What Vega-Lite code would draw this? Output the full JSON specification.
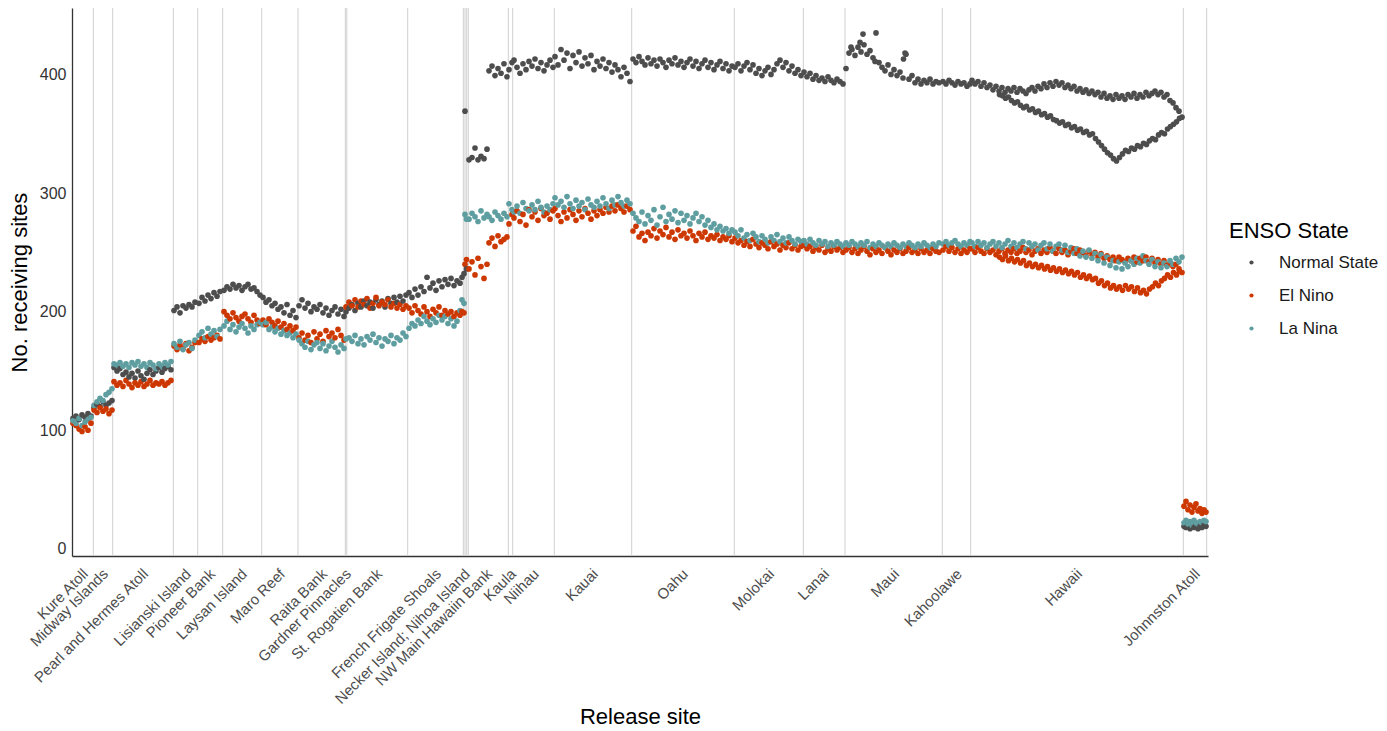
{
  "$schema": "https://vega.github.io/schema/vega-lite/v6.json",
  "width": 1136,
  "height": 548,
  "autosize": "none",
  "padding": {"left": 72, "top": 8, "right": 179, "bottom": 175},
  "background": "white",
  "config": {"view": {"stroke": null}, "font": "Liberation Sans"},
  "datasets": {
    "sites": [
      {"b": 21.3}, {"b": 40.7}, {"b": 101.3}, {"b": 125.7}, {"b": 150.7}, {"b": 189.7}, {"b": 226}, {"b": 273.3}, {"b": 274.8},
      {"b": 335.7}, {"b": 391.3}, {"b": 393}, {"b": 394.7}, {"b": 396.3}, {"b": 436.3}, {"b": 440.7}, {"b": 482.3}, {"b": 559.7},
      {"b": 662.3}, {"b": 731.3}, {"b": 773}, {"b": 870.3}, {"b": 898.7}, {"b": 1111.3}, {"b": 1134.7}
    ],
    "pts": [
      {"x":1,"n":110,"e":106,"l":108},{"x":4,"n":112,"e":104,"l":106},{"x":7,"n":109,"e":101,"l":110},{"x":10,"n":113,"e":99,"l":104},
      {"x":13,"n":111,"e":103,"l":107},{"x":16,"n":114,"e":100,"l":109},{"x":19,"n":112,"e":106,"l":111},
      {"x":22,"n":119,"e":117,"l":121},{"x":25,"n":122,"e":115,"l":124},{"x":28,"n":120,"e":119,"l":127},{"x":31,"n":124,"e":116,"l":125},
      {"x":34,"n":121,"e":118,"l":130},{"x":37,"n":123,"e":114,"l":132},{"x":40,"n":125,"e":117,"l":135},
      {"x":42,"n":153,"e":141,"l":156},{"x":45,"n":150,"e":138,"l":155},{"x":48,"n":152,"e":140,"l":157},{"x":51,"n":147,"e":137,"l":154},
      {"x":54,"n":149,"e":142,"l":156},{"x":57,"n":145,"e":139,"l":153},{"x":60,"n":148,"e":136,"l":157},{"x":63,"n":144,"e":140,"l":155},
      {"x":66,"n":150,"e":138,"l":158},{"x":69,"n":146,"e":141,"l":154},{"x":72,"n":143,"e":137,"l":156},{"x":75,"n":148,"e":139,"l":153},
      {"x":78,"n":151,"e":142,"l":157},{"x":81,"n":147,"e":138,"l":155},{"x":84,"n":150,"e":140,"l":152},{"x":87,"n":153,"e":139,"l":156},
      {"x":90,"n":149,"e":141,"l":154},{"x":93,"n":152,"e":138,"l":157},{"x":96,"n":154,"e":140,"l":155},{"x":99,"n":151,"e":142,"l":158},
      {"x":102,"n":201,"e":171,"l":173},{"x":105,"n":204,"e":168,"l":170},{"x":108,"n":199,"e":172,"l":175},{"x":111,"n":205,"e":169,"l":168},
      {"x":114,"n":203,"e":173,"l":172},{"x":117,"n":206,"e":167,"l":174},{"x":120,"n":204,"e":170,"l":169},{"x":123,"n":208,"e":174,"l":176},
      {"x":127,"n":207,"e":174,"l":180},{"x":130,"n":212,"e":177,"l":183},{"x":133,"n":209,"e":175,"l":178},{"x":136,"n":214,"e":179,"l":186},
      {"x":139,"n":211,"e":176,"l":181},{"x":142,"n":216,"e":178,"l":184},{"x":145,"n":213,"e":180,"l":179},{"x":148,"n":217,"e":177,"l":185},
      {"x":152,"n":218,"e":200,"l":188},{"x":155,"n":221,"e":197,"l":192},{"x":158,"n":219,"e":194,"l":185},{"x":161,"n":223,"e":199,"l":189},
      {"x":164,"n":220,"e":195,"l":183},{"x":167,"n":222,"e":192,"l":187},{"x":170,"n":218,"e":196,"l":190},{"x":173,"n":221,"e":198,"l":186},
      {"x":176,"n":223,"e":194,"l":182},{"x":179,"n":219,"e":191,"l":188},{"x":182,"n":220,"e":197,"l":185},{"x":185,"n":217,"e":193,"l":189},
      {"x":188,"n":214,"e":190,"l":191},
      {"x":191,"n":212,"e":193,"l":189},{"x":194,"n":208,"e":189,"l":191},{"x":197,"n":210,"e":194,"l":185},{"x":200,"n":205,"e":191,"l":187},
      {"x":203,"n":207,"e":188,"l":183},{"x":206,"n":202,"e":192,"l":186},{"x":209,"n":204,"e":187,"l":181},{"x":212,"n":199,"e":190,"l":184},
      {"x":215,"n":206,"e":185,"l":180},{"x":218,"n":197,"e":188,"l":182},{"x":221,"n":201,"e":184,"l":178},{"x":224,"n":195,"e":187,"l":181},
      {"x":227,"n":205,"e":178,"l":176},{"x":230,"n":210,"e":182,"l":173},{"x":233,"n":203,"e":176,"l":170},{"x":236,"n":207,"e":180,"l":175},
      {"x":239,"n":200,"e":174,"l":168},{"x":242,"n":204,"e":183,"l":172},{"x":245,"n":202,"e":177,"l":174},{"x":248,"n":206,"e":181,"l":169},
      {"x":251,"n":199,"e":175,"l":173},{"x":254,"n":203,"e":184,"l":167},{"x":257,"n":197,"e":179,"l":171},{"x":260,"n":201,"e":182,"l":175},
      {"x":263,"n":204,"e":178,"l":170},{"x":266,"n":198,"e":185,"l":166},{"x":269,"n":202,"e":180,"l":172},{"x":272,"n":196,"e":176,"l":169},
      {"x":274,"n":200,"e":204,"l":177},
      {"x":277,"n":203,"e":208,"l":178},{"x":280,"n":206,"e":205,"l":175},{"x":283,"n":201,"e":210,"l":180},{"x":286,"n":207,"e":204,"l":173},
      {"x":289,"n":204,"e":209,"l":177},{"x":292,"n":209,"e":206,"l":172},{"x":295,"n":205,"e":211,"l":179},{"x":298,"n":208,"e":203,"l":176},
      {"x":301,"n":203,"e":207,"l":181},{"x":304,"n":210,"e":212,"l":174},{"x":307,"n":206,"e":205,"l":178},{"x":310,"n":209,"e":208,"l":171},
      {"x":313,"n":204,"e":206,"l":177},{"x":316,"n":211,"e":210,"l":175},{"x":319,"n":207,"e":204,"l":180},{"x":322,"n":212,"e":207,"l":173},
      {"x":325,"n":208,"e":203,"l":178},{"x":328,"n":213,"e":206,"l":176},{"x":331,"n":209,"e":202,"l":182},{"x":334,"n":214,"e":205,"l":179},
      {"x":337,"n":216,"e":203,"l":186},{"x":340,"n":212,"e":199,"l":190},{"x":343,"n":219,"e":205,"l":188},{"x":346,"n":214,"e":201,"l":193},
      {"x":349,"n":221,"e":198,"l":190},{"x":352,"n":217,"e":204,"l":196},{"x":355,"n":229,"e":200,"l":192},{"x":358,"n":220,"e":196,"l":189},
      {"x":361,"n":224,"e":202,"l":194},{"x":364,"n":218,"e":199,"l":191},{"x":367,"n":226,"e":204,"l":197},{"x":370,"n":221,"e":197,"l":193},
      {"x":373,"n":227,"e":201,"l":196},{"x":376,"n":223,"e":198,"l":190},{"x":379,"n":228,"e":200,"l":194},{"x":382,"n":222,"e":196,"l":188},
      {"x":385,"n":226,"e":199,"l":192},{"x":388,"n":224,"e":197,"l":201},{"x":390,"n":229,"e":200,"l":210},
      {"x":392,"n":232,"e":199,"l":207},{"x":393,"n":369,"e":240,"l":282},{"x":394.5,"n":236,"e":244,"l":278},
      {"x":397,"n":328,"e":236,"l":278},{"x":400,"n":330,"e":242,"l":283},{"x":403,"n":338,"e":231,"l":280},{"x":406,"n":328,"e":245,"l":276},
      {"x":409,"n":331,"e":238,"l":285},{"x":412,"n":329,"e":228,"l":279},{"x":415,"n":337,"e":240,"l":282},
      {"x":417,"n":403,"e":258,"l":280},{"x":420,"n":407,"e":262,"l":277},{"x":423,"n":399,"e":255,"l":284},{"x":426,"n":405,"e":264,"l":281},
      {"x":429,"n":401,"e":259,"l":278},{"x":432,"n":409,"e":261,"l":283},{"x":435,"n":398,"e":263,"l":280},
      {"x":437,"n":404,"e":274,"l":291},{"x":440,"n":410,"e":282,"l":286},
      {"x":442,"n":412,"e":279,"l":284},{"x":445,"n":406,"e":285,"l":289},{"x":448,"n":401,"e":276,"l":283},{"x":451,"n":409,"e":282,"l":292},
      {"x":454,"n":404,"e":273,"l":287},{"x":457,"n":411,"e":286,"l":285},{"x":460,"n":407,"e":280,"l":290},{"x":463,"n":413,"e":284,"l":286},
      {"x":466,"n":405,"e":277,"l":293},{"x":469,"n":410,"e":287,"l":288},{"x":472,"n":403,"e":281,"l":284},{"x":475,"n":408,"e":283,"l":289},
      {"x":478,"n":412,"e":278,"l":286},{"x":481,"n":406,"e":285,"l":291},
      {"x":483,"n":415,"e":287,"l":296},{"x":486,"n":408,"e":281,"l":290},{"x":489,"n":421,"e":276,"l":293},{"x":492,"n":412,"e":284,"l":288},
      {"x":495,"n":418,"e":279,"l":297},{"x":498,"n":405,"e":286,"l":291},{"x":501,"n":416,"e":282,"l":287},{"x":504,"n":410,"e":277,"l":294},
      {"x":507,"n":419,"e":285,"l":289},{"x":510,"n":407,"e":280,"l":292},{"x":513,"n":414,"e":287,"l":286},{"x":516,"n":409,"e":283,"l":295},
      {"x":519,"n":416,"e":278,"l":290},{"x":522,"n":404,"e":285,"l":288},{"x":525,"n":411,"e":281,"l":293},{"x":528,"n":407,"e":286,"l":289},
      {"x":531,"n":413,"e":283,"l":296},{"x":534,"n":405,"e":288,"l":291},{"x":537,"n":410,"e":284,"l":287},{"x":540,"n":402,"e":289,"l":294},
      {"x":543,"n":408,"e":285,"l":290},{"x":546,"n":404,"e":290,"l":297},{"x":549,"n":398,"e":287,"l":292},{"x":552,"n":406,"e":284,"l":289},
      {"x":555,"n":401,"e":289,"l":294},{"x":558,"n":394,"e":286,"l":291},
      {"x":561,"n":413,"e":268,"l":283},{"x":564,"n":410,"e":272,"l":279},{"x":567,"n":415,"e":263,"l":276},{"x":570,"n":411,"e":266,"l":284},
      {"x":573,"n":408,"e":260,"l":274},{"x":576,"n":414,"e":267,"l":281},{"x":579,"n":409,"e":264,"l":277},{"x":582,"n":412,"e":270,"l":286},
      {"x":585,"n":407,"e":262,"l":273},{"x":588,"n":413,"e":268,"l":280},{"x":591,"n":410,"e":265,"l":288},{"x":594,"n":406,"e":271,"l":276},
      {"x":597,"n":412,"e":263,"l":282},{"x":600,"n":409,"e":267,"l":278},{"x":603,"n":414,"e":261,"l":285},{"x":606,"n":408,"e":269,"l":275},
      {"x":609,"n":411,"e":264,"l":283},{"x":612,"n":406,"e":266,"l":277},{"x":615,"n":410,"e":262,"l":281},{"x":618,"n":413,"e":268,"l":274},
      {"x":621,"n":407,"e":264,"l":279},{"x":624,"n":411,"e":260,"l":283},{"x":627,"n":405,"e":266,"l":276},{"x":630,"n":409,"e":263,"l":280},
      {"x":633,"n":412,"e":267,"l":273},{"x":636,"n":406,"e":261,"l":277},{"x":639,"n":410,"e":264,"l":271},{"x":642,"n":404,"e":262,"l":274},
      {"x":645,"n":408,"e":265,"l":269},{"x":648,"n":411,"e":260,"l":272},{"x":651,"n":405,"e":263,"l":268},{"x":654,"n":409,"e":261,"l":270},
      {"x":657,"n":403,"e":264,"l":266},{"x":660,"n":407,"e":259,"l":269},
      {"x":663,"n":406,"e":262,"l":267},{"x":666,"n":409,"e":258,"l":264},{"x":669,"n":403,"e":260,"l":269},{"x":672,"n":407,"e":256,"l":262},
      {"x":675,"n":410,"e":259,"l":265},{"x":678,"n":404,"e":255,"l":260},{"x":681,"n":408,"e":261,"l":266},{"x":684,"n":401,"e":257,"l":263},
      {"x":687,"n":405,"e":254,"l":259},{"x":690,"n":399,"e":258,"l":264},{"x":693,"n":403,"e":256,"l":261},{"x":696,"n":406,"e":253,"l":258},
      {"x":699,"n":400,"e":259,"l":263},{"x":702,"n":404,"e":255,"l":260},{"x":705,"n":409,"e":257,"l":265},{"x":708,"n":412,"e":252,"l":259},
      {"x":711,"n":406,"e":256,"l":262},{"x":714,"n":410,"e":254,"l":258},{"x":717,"n":403,"e":258,"l":263},{"x":720,"n":407,"e":253,"l":260},
      {"x":723,"n":401,"e":256,"l":257},{"x":726,"n":404,"e":252,"l":261},{"x":729,"n":399,"e":255,"l":259},
      {"x":732,"n":402,"e":256,"l":260},{"x":735,"n":398,"e":253,"l":257},{"x":738,"n":401,"e":255,"l":261},{"x":741,"n":396,"e":251,"l":258},
      {"x":744,"n":399,"e":254,"l":256},{"x":747,"n":395,"e":252,"l":260},{"x":750,"n":397,"e":256,"l":257},{"x":753,"n":394,"e":250,"l":259},
      {"x":756,"n":398,"e":253,"l":255},{"x":759,"n":395,"e":251,"l":258},{"x":762,"n":393,"e":255,"l":256},{"x":765,"n":396,"e":252,"l":259},
      {"x":768,"n":394,"e":254,"l":257},{"x":771,"n":392,"e":250,"l":255},
      {"x":774,"n":405,"e":252,"l":258},{"x":777,"n":418,"e":254,"l":256},{"x":780,"n":421,"e":250,"l":259},{"x":783,"n":416,"e":253,"l":257},
      {"x":786,"n":423,"e":249,"l":255},{"x":789,"n":419,"e":252,"l":258},{"x":792,"n":425,"e":255,"l":256},{"x":795,"n":417,"e":251,"l":259},
      {"x":798,"n":420,"e":248,"l":254},{"x":801,"n":414,"e":253,"l":257},{"x":804,"n":435,"e":250,"l":255},{"x":807,"n":410,"e":252,"l":258},
      {"x":810,"n":406,"e":249,"l":256},{"x":813,"n":403,"e":254,"l":254},{"x":816,"n":408,"e":251,"l":257},{"x":819,"n":400,"e":248,"l":255},
      {"x":822,"n":404,"e":252,"l":258},{"x":825,"n":399,"e":250,"l":256},{"x":828,"n":402,"e":253,"l":254},{"x":831,"n":397,"e":249,"l":257},
      {"x":834,"n":417,"e":251,"l":255},{"x":837,"n":396,"e":254,"l":258},{"x":840,"n":399,"e":250,"l":256},{"x":843,"n":393,"e":252,"l":254},
      {"x":846,"n":396,"e":249,"l":257},{"x":849,"n":392,"e":253,"l":255},{"x":852,"n":395,"e":250,"l":258},{"x":855,"n":393,"e":252,"l":256},
      {"x":858,"n":396,"e":249,"l":254},{"x":861,"n":392,"e":253,"l":257},{"x":864,"n":394,"e":251,"l":255},{"x":867,"n":393,"e":250,"l":258},
      {"x":779,"n":423},{"x":788,"n":427},{"x":791,"n":434},{"x":803,"n":411},{"x":831.5,"n":413},{"x":833,"n":418},
      {"x":871,"n":394,"e":252,"l":257},{"x":874,"n":392,"e":255,"l":259},{"x":877,"n":395,"e":251,"l":256},{"x":880,"n":393,"e":254,"l":258},
      {"x":883,"n":391,"e":250,"l":260},{"x":886,"n":394,"e":253,"l":257},{"x":889,"n":392,"e":249,"l":255},{"x":892,"n":393,"e":252,"l":258},
      {"x":895,"n":390,"e":250,"l":256},{"x":898,"n":392,"e":253,"l":259},
      {"x":900,"n":395,"e":253,"l":258},{"x":903,"n":392,"e":250,"l":255},{"x":906,"n":394,"e":254,"l":259},{"x":909,"n":390,"e":251,"l":256},
      {"x":912,"n":393,"e":249,"l":258},{"x":915,"n":389,"e":253,"l":254},{"x":918,"n":391,"e":250,"l":257},{"x":921,"n":387,"e":252,"l":259},
      {"x":924,"n":390,"e":248,"l":255},{"x":927,"n":386,"e":251,"l":258},{"x":930,"n":389,"e":253,"l":254},{"x":933,"n":385,"e":249,"l":257},
      {"x":936,"n":388,"e":252,"l":260},{"x":939,"n":386,"e":250,"l":255},{"x":942,"n":389,"e":253,"l":258},{"x":945,"n":385,"e":249,"l":254},
      {"x":948,"n":388,"e":251,"l":257},{"x":951,"n":386,"e":254,"l":259},{"x":954,"n":384,"e":250,"l":253},{"x":957,"n":387,"e":252,"l":258},
      {"x":960,"n":389,"e":248,"l":255},{"x":963,"n":386,"e":251,"l":257},{"x":966,"n":390,"e":253,"l":252},{"x":969,"n":388,"e":249,"l":256},
      {"x":972,"n":392,"e":252,"l":258},{"x":975,"n":389,"e":250,"l":253},{"x":978,"n":393,"e":254,"l":257},{"x":981,"n":390,"e":251,"l":251},
      {"x":984,"n":394,"e":249,"l":255},{"x":987,"n":391,"e":253,"l":257},{"x":990,"n":393,"e":250,"l":252},{"x":993,"n":389,"e":252,"l":256},
      {"x":996,"n":391,"e":248,"l":250},{"x":999,"n":388,"e":251,"l":254},{"x":1002,"n":390,"e":253,"l":249},{"x":1005,"n":386,"e":249,"l":253},
      {"x":1008,"n":388,"e":252,"l":247},{"x":1011,"n":385,"e":250,"l":251},{"x":1014,"n":387,"e":247,"l":246},{"x":1017,"n":384,"e":251,"l":252},
      {"x":1020,"n":386,"e":248,"l":245},{"x":1023,"n":383,"e":250,"l":249},{"x":1026,"n":385,"e":246,"l":243},{"x":1029,"n":381,"e":249,"l":248},
      {"x":1032,"n":384,"e":245,"l":241},{"x":1035,"n":380,"e":247,"l":246},{"x":1038,"n":382,"e":244,"l":239},{"x":1041,"n":379,"e":246,"l":243},
      {"x":1044,"n":383,"e":243,"l":237},{"x":1047,"n":380,"e":246,"l":242},{"x":1050,"n":382,"e":244,"l":236},{"x":1053,"n":379,"e":242,"l":241},
      {"x":1056,"n":383,"e":245,"l":238},{"x":1059,"n":381,"e":243,"l":243},{"x":1062,"n":384,"e":246,"l":240},{"x":1065,"n":380,"e":242,"l":245},
      {"x":1068,"n":383,"e":245,"l":241},{"x":1071,"n":381,"e":243,"l":247},{"x":1074,"n":385,"e":246,"l":243},{"x":1077,"n":382,"e":242,"l":240},
      {"x":1080,"n":384,"e":245,"l":244},{"x":1083,"n":386,"e":241,"l":238},{"x":1086,"n":383,"e":244,"l":242},{"x":1089,"n":385,"e":240,"l":237},
      {"x":1092,"n":381,"e":243,"l":241},{"x":1095,"n":383,"e":239,"l":238},{"x":1098,"n":378,"e":241,"l":243},{"x":1101,"n":376,"e":238,"l":240},
      {"x":1104,"n":372,"e":240,"l":245},{"x":1107,"n":369,"e":236,"l":242},{"x":1110,"n":364,"e":233,"l":246},
      {"x":927.5,"n":383,"e":246},{"x":930.5,"n":382,"e":244},{"x":933.5,"n":380,"e":247},{"x":936.5,"n":381,"e":243},{"x":939.5,"n":378,"e":245},
      {"x":942.5,"n":376,"e":242},{"x":945.5,"n":377,"e":244},{"x":948.5,"n":374,"e":241},{"x":951.5,"n":372,"e":243},{"x":954.5,"n":373,"e":239},
      {"x":957.5,"n":370,"e":241},{"x":960.5,"n":371,"e":238},{"x":963.5,"n":368,"e":240},{"x":966.5,"n":369,"e":237},{"x":969.5,"n":366,"e":239},
      {"x":972.5,"n":367,"e":236},{"x":975.5,"n":364,"e":238},{"x":978.5,"n":365,"e":235},{"x":981.5,"n":362,"e":237},{"x":984.5,"n":361,"e":234},
      {"x":987.5,"n":359,"e":236},{"x":990.5,"n":360,"e":233},{"x":993.5,"n":357,"e":235},{"x":996.5,"n":358,"e":232},{"x":999.5,"n":355,"e":234},
      {"x":1002.5,"n":356,"e":231},{"x":1005.5,"n":353,"e":233},{"x":1008.5,"n":354,"e":229},{"x":1011.5,"n":351,"e":231},{"x":1014.5,"n":352,"e":228},
      {"x":1017.5,"n":349,"e":230},{"x":1020.5,"n":350,"e":227},{"x":1023.5,"n":346,"e":228},{"x":1026.5,"n":343,"e":224},{"x":1029.5,"n":340,"e":226},
      {"x":1032.5,"n":337,"e":222},{"x":1035.5,"n":334,"e":224},{"x":1038.5,"n":332,"e":220},{"x":1041.5,"n":329,"e":222},{"x":1044.5,"n":327,"e":219},
      {"x":1047.5,"n":330,"e":221},{"x":1050.5,"n":333,"e":218},{"x":1053.5,"n":336,"e":222},{"x":1056.5,"n":335,"e":219},{"x":1059.5,"n":338,"e":221},
      {"x":1062.5,"n":337,"e":217},{"x":1065.5,"n":340,"e":220},{"x":1068.5,"n":339,"e":216},{"x":1071.5,"n":342,"e":218},{"x":1074.5,"n":341,"e":215},
      {"x":1077.5,"n":344,"e":219},{"x":1080.5,"n":346,"e":221},{"x":1083.5,"n":345,"e":224},{"x":1086.5,"n":349,"e":222},{"x":1089.5,"n":351,"e":226},
      {"x":1092.5,"n":350,"e":228},{"x":1095.5,"n":354,"e":231},{"x":1098.5,"n":356,"e":229},{"x":1101.5,"n":358,"e":233},{"x":1104.5,"n":360,"e":231},
      {"x":1107.5,"n":363,"e":234},
      {"x":1112,"n":19,"e":36,"l":22},{"x":1114,"n":18,"e":40,"l":24},{"x":1116,"n":20,"e":33,"l":21},{"x":1118,"n":17,"e":37,"l":23},
      {"x":1120,"n":19,"e":31,"l":20},{"x":1122,"n":18,"e":35,"l":24},{"x":1124,"n":20,"e":38,"l":22},{"x":1126,"n":17,"e":32,"l":21},
      {"x":1128,"n":19,"e":34,"l":23},{"x":1130,"n":18,"e":30,"l":22},{"x":1132,"n":20,"e":33,"l":24},{"x":1134,"n":19,"e":31,"l":23}
    ]
  },
  "layer": [
    {
      "data": {"name": "sites"},
      "mark": {"type": "rule", "color": "#cfcfcf", "strokeWidth": 1},
      "encoding": {
        "x": {"field": "b", "type": "quantitative", "scale": {"domain": [0, 1136], "nice": false, "zero": false}}
      }
    },
    {
      "data": {"name": "pts"},
      "transform": [
        {"fold": ["n", "e", "l"], "as": ["s", "v"]},
        {"filter": "isValid(datum.v)"}
      ],
      "mark": {"type": "circle", "size": 32, "opacity": 1},
      "encoding": {
        "x": {
          "field": "x", "type": "quantitative",
          "scale": {"domain": [0, 1136], "nice": false, "zero": false},
          "axis": {
            "values": [11, 31, 71, 114, 138, 170, 208, 250, 274, 305, 364, 393, 415, 439, 462, 521, 611, 697, 752, 822, 885, 1005, 1123],
            "labelExpr": "['Kure Atoll','Midway Islands','Pearl and Hermes Atoll','Lisianski Island','Pioneer Bank','Laysan Island','Maro Reef','Raita Bank','Gardner Pinnacles','St. Rogatien Bank','French Frigate Shoals','Necker Island; Nihoa Island','NW Main Hawaiin Bank','Kaula','Niihau','Kauai','Oahu','Molokai','Lanai','Maui','Kahoolawe','Hawaii','Johnnston Atoll'][indexof([11,31,71,114,138,170,208,250,274,305,364,393,415,439,462,521,611,697,752,822,885,1005,1123], datum.value)]",
            "labelAngle": -45, "labelAlign": "right", "labelBaseline": "top",
            "labelOverlap": false, "labelBound": false, "labelFlush": false, "labelLimit": 400,
            "labelFontSize": 15, "labelColor": "#4d4d4d", "labelPadding": 10, "labelOffset": -3,
            "ticks": false, "grid": false,
            "domainColor": "#333333", "domainWidth": 1.3,
            "title": "Release site", "titleFontSize": 22, "titleFontWeight": "normal", "titleColor": "#000000",
            "titleX": 568, "titleY": 160, "titleBaseline": "middle", "titleAlign": "center"
          }
        },
        "y": {
          "field": "v", "type": "quantitative",
          "scale": {"domain": [-6, 456], "nice": false, "zero": false},
          "axis": {
            "values": [0, 100, 200, 300, 400],
            "labelFontSize": 16, "labelColor": "#333333", "labelPadding": 6,
            "ticks": false, "grid": false,
            "domainColor": "#333333", "domainWidth": 1.3,
            "title": "No. receiving sites", "titleFontSize": 22, "titleFontWeight": "normal", "titleColor": "#000000",
            "titleAngle": -90, "titleX": -53, "titleY": 274, "titleBaseline": "middle", "titleAlign": "center"
          }
        },
        "color": {
          "field": "s", "type": "nominal",
          "scale": {"domain": ["n", "e", "l"], "range": ["#4d4d4d", "#cd3700", "#5f9ea0"]},
          "legend": {
            "title": "ENSO State", "orient": "none", "legendX": 1157, "legendY": 213,
            "labelExpr": "datum.label == 'n' ? 'Normal State' : datum.label == 'e' ? 'El Nino' : 'La Nina'",
            "titleFontSize": 22, "titleFontWeight": "normal", "titleColor": "#000000", "titlePadding": 11,
            "labelFontSize": 17, "labelColor": "#1a1a1a", "labelOffset": 19,
            "symbolType": "circle", "symbolSize": 18, "symbolOffset": 14, "rowPadding": 15, "padding": 0
          }
        }
      }
    }
  ]
}
